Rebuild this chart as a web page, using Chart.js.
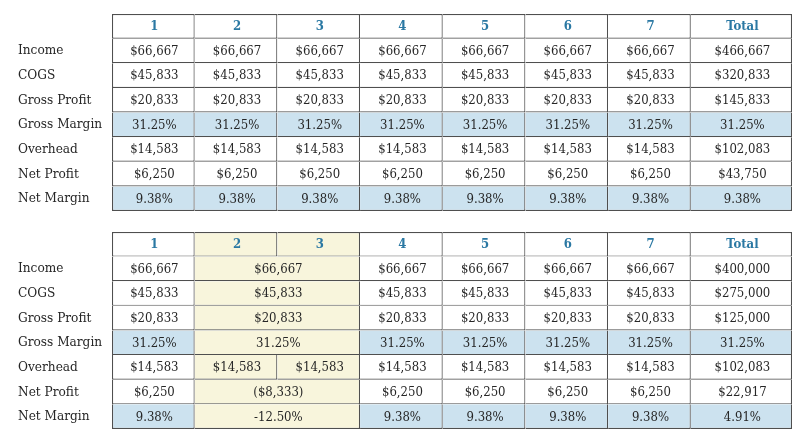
<!DOCTYPE html>
<html>
<head>
<meta charset="utf-8">
<script src="https://cdn.jsdelivr.net/npm/chart.js@4"></script>
<style>
  html, body { margin: 0; padding: 0; background: #ffffff; }
  #c { display: block; }
</style>
</head>
<body>
<canvas id="c" width="800" height="445"></canvas>
<script>
// ---------- DATA ----------
const columns = ['1', '2', '3', '4', '5', '6', '7', 'Total'];
const rowLabels = ['Income', 'COGS', 'Gross Profit', 'Gross Margin', 'Overhead', 'Net Profit', 'Net Margin'];
const rowKinds = ['money', 'money', 'money', 'pct', 'money', 'money', 'pct'];

// Table 1 (top)
const t1Income      = [66667, 66667, 66667, 66667, 66667, 66667, 66667, 466667];
const t1Cogs        = [45833, 45833, 45833, 45833, 45833, 45833, 45833, 320833];
const t1GrossProfit = [20833, 20833, 20833, 20833, 20833, 20833, 20833, 145833];
const t1GrossMargin = [31.25, 31.25, 31.25, 31.25, 31.25, 31.25, 31.25, 31.25];
const t1Overhead    = [14583, 14583, 14583, 14583, 14583, 14583, 14583, 102083];
const t1NetProfit   = [6250, 6250, 6250, 6250, 6250, 6250, 6250, 43750];
const t1NetMargin   = [9.38, 9.38, 9.38, 9.38, 9.38, 9.38, 9.38, 9.38];

// Table 2 (bottom) - null means the cell is merged with the column before it
const t2Income      = [66667, 66667, null, 66667, 66667, 66667, 66667, 400000];
const t2Cogs        = [45833, 45833, null, 45833, 45833, 45833, 45833, 275000];
const t2GrossProfit = [20833, 20833, null, 20833, 20833, 20833, 20833, 125000];
const t2GrossMargin = [31.25, 31.25, null, 31.25, 31.25, 31.25, 31.25, 31.25];
const t2Overhead    = [14583, 14583, 14583, 14583, 14583, 14583, 14583, 102083];
const t2NetProfit   = [6250, -8333, null, 6250, 6250, 6250, 6250, 22917];
const t2NetMargin   = [9.38, -12.50, null, 9.38, 9.38, 9.38, 9.38, 4.91];

const t2HighlightCols = ['2', '3'];

const table1Rows = [t1Income, t1Cogs, t1GrossProfit, t1GrossMargin, t1Overhead, t1NetProfit, t1NetMargin];
const table2Rows = [t2Income, t2Cogs, t2GrossProfit, t2GrossMargin, t2Overhead, t2NetProfit, t2NetMargin];

// ---------- LAYOUT / STYLE ----------
const colEdges = [0, 1, 2, 3, 4, 5, 6, 7, 8.224];   // x-scale units
const tableTops = [0, 8.85];                         // y-scale units (row units)
const yMax = 16.85;
const FONT = "'DejaVu Serif Condensed', 'DejaVu Serif', serif";
const LINE_W = 1.2;
const COLORS = {
  border: '#4f4f4f',
  white: '#ffffff',
  blue: '#cce2ef',
  yellow: '#f8f5dc',
  head: '#2a78a3',
  text: '#262626'
};

function fmtMoney(n) {
  const s = '$' + Math.abs(Math.round(n)).toLocaleString('en-US');
  return n < 0 ? '(' + s + ')' : s;
}
function fmtPct(n) { return n.toFixed(2) + '%'; }

// ---------- BUILD CELLS ----------
const cells = [];
const tickVals = [];
const tickTexts = [];
[table1Rows, table2Rows].forEach((rows, ti) => {
  const top = tableTops[ti];
  const highlight = ti === 1 ? t2HighlightCols : [];
  tickVals.push(top + 0.5);
  tickTexts.push('');
  columns.forEach((c, ci) => {
    cells.push({
      y: top + 0.5, x: [colEdges[ci], colEdges[ci + 1]],
      text: c, header: true, first: ci === 0, top: true,
      fill: highlight.includes(c) ? COLORS.yellow : COLORS.white
    });
  });
  rows.forEach((vals, ri) => {
    const yc = top + 1.5 + ri;
    tickVals.push(yc);
    tickTexts.push(rowLabels[ri]);
    for (let ci = 0; ci < vals.length; ci++) {
      if (vals[ci] === null) continue;
      let end = ci;
      while (end + 1 < vals.length && vals[end + 1] === null) end++;
      const v = vals[ci];
      const kind = rowKinds[ri];
      let fill = kind === 'pct' ? COLORS.blue : COLORS.white;
      if (highlight.includes(columns[ci])) fill = COLORS.yellow;
      cells.push({
        y: yc, x: [colEdges[ci], colEdges[end + 1]],
        text: kind === 'pct' ? fmtPct(v) : fmtMoney(v),
        header: false, first: ci === 0, top: false, fill
      });
    }
  });
});

// ---------- TEXT PLUGIN ----------
const cellText = {
  id: 'cellText',
  afterDatasetsDraw(chart) {
    const ctx = chart.ctx;
    const meta = chart.getDatasetMeta(0);
    ctx.save();
    ctx.textAlign = 'center';
    ctx.textBaseline = 'middle';
    meta.data.forEach((el, i) => {
      const raw = chart.data.datasets[0].data[i];
      const p = el.getCenterPoint();
      if (raw.header) {
        ctx.font = 'bold 13px ' + FONT;
        ctx.fillStyle = COLORS.head;
      } else {
        ctx.font = '13px ' + FONT;
        ctx.fillStyle = COLORS.text;
      }
      ctx.fillText(raw.text, p.x + 1, p.y + 0.5);
    });
    ctx.restore();
  }
};

new Chart(document.getElementById('c'), {
  type: 'bar',
  data: {
    datasets: [{
      data: cells,
      backgroundColor: (c) => c.raw ? c.raw.fill : COLORS.white,
      borderColor: COLORS.border,
      borderWidth: (c) => c.raw ? { top: c.raw.top ? LINE_W : 0, left: c.raw.first ? LINE_W : 0, right: LINE_W, bottom: LINE_W } : 0,
      borderSkipped: false,
      inflateAmount: 0,
      barPercentage: 1,
      categoryPercentage: 1,
      grouped: false
    }]
  },
  options: {
    indexAxis: 'y',
    responsive: false,
    animation: false,
    devicePixelRatio: 1,
    layout: { padding: { top: 14, bottom: 16, left: 18, right: 8 } },
    plugins: { legend: { display: false }, tooltip: { enabled: false } },
    scales: {
      x: { type: 'linear', min: 0, max: colEdges[colEdges.length - 1], display: false, offset: false },
      y: {
        type: 'linear', min: 0, max: yMax, reverse: true, offset: false,
        grid: { display: false }, border: { display: false },
        afterBuildTicks: (scale) => { scale.ticks = tickVals.map(v => ({ value: v })); },
        afterFit: (scale) => { scale.width = 94; },
        ticks: {
          crossAlign: 'far',
          autoSkip: false,
          color: COLORS.text,
          font: { family: FONT, size: 13.5 },
          callback: (v, i) => tickTexts[i]
        }
      }
    }
  },
  plugins: [cellText]
});
</script>
</body>
</html>
